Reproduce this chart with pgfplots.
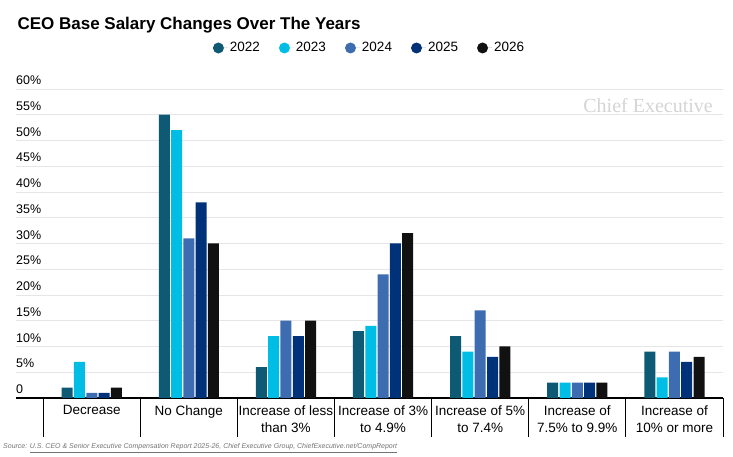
\documentclass[border=0pt]{standalone}
\usepackage{pgfplots}
\usepackage{pgfplotstable}
\pgfplotsset{compat=1.18}
\usepackage{fontspec}
\setmainfont{Liberation Sans}
\newfontfamily\wmfont{Liberation Serif}

\definecolor{c22}{HTML}{0E5A75}
\definecolor{c23}{HTML}{00BDE5}
\definecolor{c24}{HTML}{3D6DB0}
\definecolor{c25}{HTML}{003279}
\definecolor{c26}{HTML}{111111}
\definecolor{gridgray}{HTML}{E6E6E6}

% share of CEOs (%) per salary change bucket
\pgfplotstableread{
x  y22 y23 y24 y25 y26
0  2   7   1   1   2
1  55  52  31  38  30
2  6   12  15  12  15
3  13  14  24  30  32
4  12  9   17  8   10
5  3   3   3   3   3
6  9   4   9   7   8
}\salary

\pgfplotsset{
  bs/.style={fill=#1, draw=none,
    legend image code/.code={\fill[#1] (5.5pt,0pt) circle (5.5pt);
      \path (0pt,0pt) -- (15pt,0pt);}},
}

\begin{document}
\begin{tikzpicture}
\begin{axis}[
    name=ax,
    scale only axis,
    width=707pt, height=309pt,
    ybar=1.3pt, bar width=11pt,
    xmin=-0.78, xmax=6.5,
    ymin=0, ymax=60,
    axis x line*=bottom, axis y line*=left,
    x axis line style={-, black, line width=1.2pt},
    y axis line style={draw=none},
    major tick length=0pt,
    ytick={0,5,...,60},
    yticklabels={0,5\%,10\%,15\%,20\%,25\%,30\%,35\%,40\%,45\%,50\%,55\%,60\%},
    yticklabel style={anchor=south west, inner sep=0pt, yshift=4pt,
      font=\fontsize{12.5}{14}\selectfont},
    ymajorgrids,
    grid style={gridgray, line width=0.9pt},
    xtick={0,...,6},
    xticklabels={Decrease, No Change, Increase of less\\than 3\%,
      Increase of 3\%\\to 4.9\%, Increase of 5\%\\to 7.4\%,
      Increase of\\7.5\% to 9.9\%, Increase of\\10\% or more},
    xticklabel style={align=center, anchor=north, yshift=-4pt,
      font=\fontsize{13.5}{17}\selectfont},
    extra x ticks={-0.5,0.5,...,6.5},
    extra x tick labels={},
    extra x tick style={major tick length=39pt, tick align=outside,
      tick style={black, line width=0.8pt}},
    legend style={at={(0.5,1)}, anchor=center, yshift=41pt, draw=none,
      legend columns=-1, font=\fontsize{13.5}{16}\selectfont,
      /tikz/every even column/.append style={column sep=17pt}},
]
\addplot[bs=c22] table[x=x, y=y22] {\salary};
\addplot[bs=c23] table[x=x, y=y23] {\salary};
\addplot[bs=c24] table[x=x, y=y24] {\salary};
\addplot[bs=c25] table[x=x, y=y25] {\salary};
\addplot[bs=c26] table[x=x, y=y26] {\salary};
\legend{2022,2023,2024,2025,2026}
\end{axis}

\node[anchor=base west, font=\bfseries\fontsize{17}{20}\selectfont]
  at ([xshift=-2pt, yshift=59pt]ax.north west)
  {CEO Base Salary Changes Over The Years};
\node[anchor=base east, font=\wmfont\fontsize{20}{24}\selectfont,
  text=black!17, inner sep=0pt]
  at ([xshift=-10pt, yshift=-24pt]ax.north east) {Chief Executive};
\node[anchor=base west, inner sep=0pt, text=black!55,
  font=\itshape\fontsize{7}{8}\selectfont]
  at ([xshift=-13pt, yshift=-51pt]ax.south west)
  {Source: \underline{U.S. CEO \& Senior Executive Compensation Report 2025-26, Chief Executive Group, ChiefExecutive.net/CompReport}};

\pgfresetboundingbox
\path ([xshift=-16pt, yshift=-59pt]ax.south west)
  rectangle ([xshift=10pt, yshift=89pt]ax.north east);
\end{tikzpicture}
\end{document}
